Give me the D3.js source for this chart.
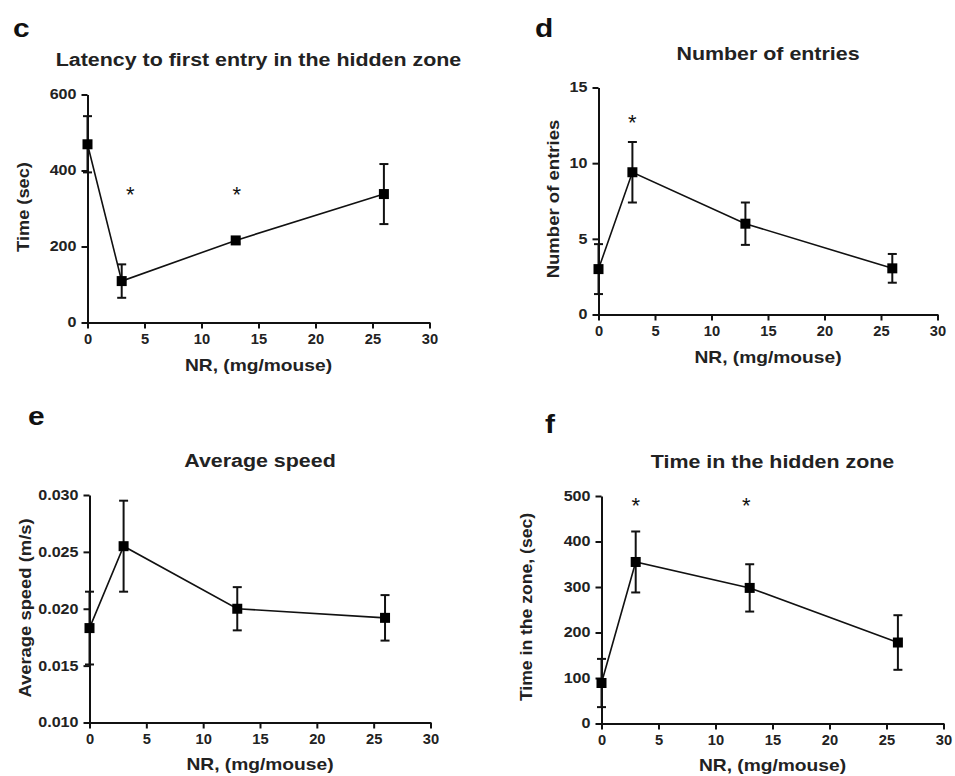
<!DOCTYPE html>
<html><head><meta charset="utf-8">
<script src="https://cdn.jsdelivr.net/npm/d3@7"></script>
<style>
body{margin:0;background:#fff;}
svg{display:block;font-family:"Liberation Sans",Arial,sans-serif;}
</style></head>
<body><svg id="chart" width="955" height="776"></svg>
<script>
// ---------- data ----------
const doses = [0, 3, 13, 26];
const xTicks = [0, 5, 10, 15, 20, 25, 30];

const latencyMean = [469, 109, 216, 338];
const latencyErr  = [74, 44, 8, 79];
const latencyStars = [3.75, 13.1];
const latencyTicks = [0, 200, 400, 600];

const entriesMean = [3.0, 9.4, 6.0, 3.05];
const entriesErr  = [1.65, 2.0, 1.4, 0.95];
const entriesStars = [3];
const entriesTicks = [0, 5, 10, 15];

const speedMean = [0.0183, 0.0255, 0.0200, 0.0192];
const speedErr  = [0.0032, 0.0040, 0.0019, 0.0020];
const speedStars = [];
const speedTicks = [0.010, 0.015, 0.020, 0.025, 0.030];

const zoneMean = [89, 355, 298, 178];
const zoneErr  = [53, 67, 52, 60];
const zoneStars = [3, 12.7];
const zoneTicks = [0, 100, 200, 300, 400, 500];

// ---------- panels ----------
const panels = [
  {letter:"c", title:"Latency to first entry in the hidden zone", ylabel:"Time (sec)",
   mean:latencyMean, err:latencyErr, stars:latencyStars, starY:341, yDomain:[0,600], yTicks:latencyTicks, fmt:d3.format("d"),
   box:{l:87.5,r:429.5,t:94.5,b:322.5}, letterPos:[13,37], titleY:66, ylabX:29, ylabY:207, xlabY:371, ylabScale:1.14},
  {letter:"d", title:"Number of entries", ylabel:"Number of entries",
   mean:entriesMean, err:entriesErr, stars:entriesStars, starY:12.8, yDomain:[0,15], yTicks:entriesTicks, fmt:d3.format("d"),
   box:{l:598.5,r:937.5,t:87.5,b:314.5}, letterPos:[535,37], titleY:60, ylabX:559, ylabY:199, xlabY:363, ylabScale:1.16},
  {letter:"e", title:"Average speed", ylabel:"Average speed (m/s)",
   mean:speedMean, err:speedErr, stars:speedStars, starY:0, yDomain:[0.010,0.030], yTicks:speedTicks, fmt:d3.format(".3f"),
   box:{l:89.5,r:430.5,t:495,b:722.5}, letterPos:[28,425], titleY:467, ylabX:31, ylabY:608, xlabY:770, ylabScale:1.15},
  {letter:"f", title:"Time in the hidden zone", ylabel:"Time in the zone, (sec)",
   mean:zoneMean, err:zoneErr, stars:zoneStars, starY:483, yDomain:[0,500], yTicks:zoneTicks, fmt:d3.format("d"),
   box:{l:601.5,r:943.5,t:496,b:723.5}, letterPos:[545,433], titleY:468, ylabX:532, ylabY:607, xlabY:771, ylabScale:1.10}
];

const svg = d3.select("#chart");

function wideText(g, x, y, rot, sx, size, anchor, str, fill){
  return g.append("text")
    .attr("transform", `translate(${x},${y}) rotate(${rot}) scale(${sx},1)`)
    .attr("text-anchor", anchor).attr("font-size", size).attr("font-weight","bold")
    .attr("fill", fill).text(str);
}

panels.forEach(p => {
  const g = svg.append("g");
  const x = d3.scaleLinear().domain([0,30]).range([p.box.l, p.box.r]);
  const y = d3.scaleLinear().domain(p.yDomain).range([p.box.b, p.box.t]);
  const data = doses.map((d,i)=>({x:d, m:p.mean[i], e:p.err[i]}));

  // panel letter
  wideText(g, p.letterPos[0], p.letterPos[1], 0, 1.15, 26, "start", p.letter, "#111");
  // title
  wideText(g, (p.box.l+p.box.r)/2, p.titleY, 0, 1.19, 18, "middle", p.title, "#222");

  // axes
  const xa = g.append("g").attr("transform",`translate(0,${p.box.b})`)
    .call(d3.axisBottom(x).tickValues(xTicks).tickSize(6).tickPadding(6).tickSizeOuter(0).tickFormat(d3.format("d")));
  const ya = g.append("g").attr("transform",`translate(${p.box.l},0)`)
    .call(d3.axisLeft(y).tickValues(p.yTicks).tickSize(6).tickPadding(5).tickSizeOuter(0).tickFormat(p.fmt));
  [xa,ya].forEach(a=>{
    a.select(".domain").attr("stroke","#111").attr("stroke-width",2);
    a.selectAll(".tick line").attr("stroke","#111").attr("stroke-width",2);
    a.selectAll(".tick text").attr("fill","#222").attr("font-weight","bold").attr("font-size",14);
  });
  xa.selectAll(".tick text").attr("transform","scale(1.05,1)");
  ya.selectAll(".tick text").attr("x",0).attr("transform","translate(-11,0) scale(1.15,1)");

  // axis labels
  wideText(g, (p.box.l+p.box.r)/2, p.xlabY, 0, 1.2, 16, "middle", "NR, (mg/mouse)", "#222");
  wideText(g, p.ylabX, p.ylabY, -90, p.ylabScale, 16, "middle", p.ylabel, "#222");

  // connecting line
  g.append("path").datum(data)
    .attr("d", d3.line().x(d=>x(d.x)).y(d=>y(d.m)))
    .attr("fill","none").attr("stroke","#111").attr("stroke-width",1.6);

  // error bars
  const eb = g.selectAll(".eb").data(data).enter().append("g");
  eb.append("line").attr("x1",d=>x(d.x)).attr("x2",d=>x(d.x))
    .attr("y1",d=>y(d.m+d.e)).attr("y2",d=>y(d.m-d.e)).attr("stroke","#111").attr("stroke-width",2);
  eb.append("line").attr("x1",d=>x(d.x)-4.5).attr("x2",d=>x(d.x)+4.5)
    .attr("y1",d=>y(d.m+d.e)).attr("y2",d=>y(d.m+d.e)).attr("stroke","#111").attr("stroke-width",2);
  eb.append("line").attr("x1",d=>x(d.x)-4.5).attr("x2",d=>x(d.x)+4.5)
    .attr("y1",d=>y(d.m-d.e)).attr("y2",d=>y(d.m-d.e)).attr("stroke","#111").attr("stroke-width",2);

  // markers
  g.selectAll(".mk").data(data).enter().append("rect")
    .attr("x",d=>x(d.x)-5).attr("y",d=>y(d.m)-5).attr("width",10).attr("height",10).attr("fill","#000");

  // significance stars
  g.selectAll(".st").data(p.stars).enter().append("text")
    .attr("x",d=>x(d)).attr("y",y(p.starY)+9).attr("text-anchor","middle")
    .attr("font-size",22).attr("fill","#111").text("*");
});
</script></body></html>
